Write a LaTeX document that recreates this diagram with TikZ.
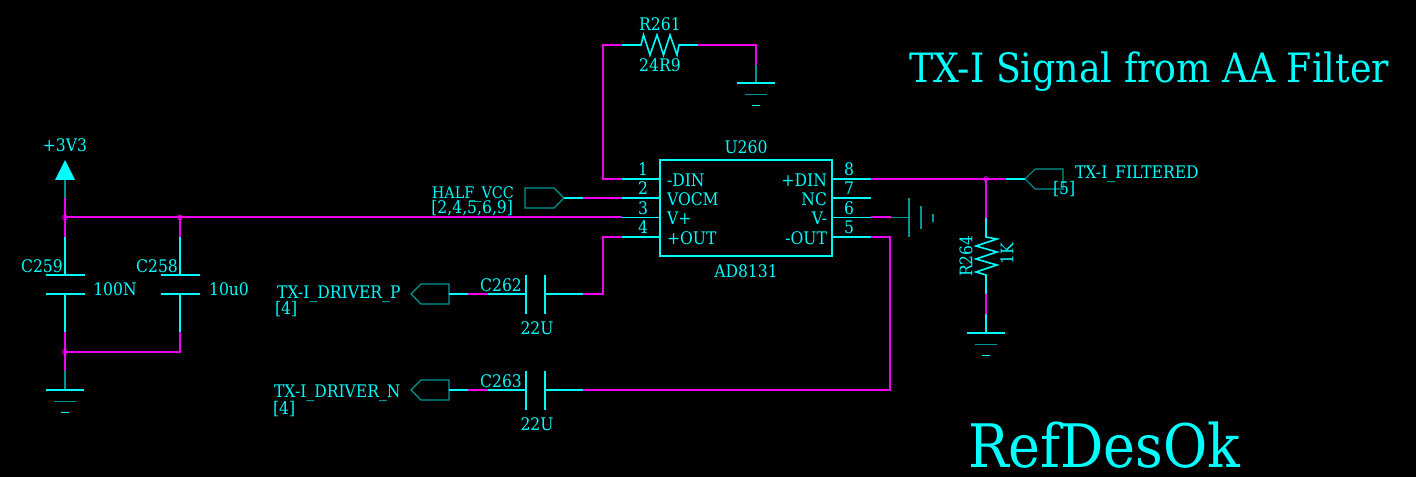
\documentclass[tikz,border=0pt]{standalone}
\usepackage{fontspec}
\setmainfont[FakeStretch=0.9]{DejaVu Serif}
\usepackage{xcolor}
\definecolor{schcyan}{RGB}{0,250,250}
\definecolor{schbright}{RGB}{0,255,255}
\definecolor{schteal}{RGB}{0,150,150}
\definecolor{schwire}{RGB}{240,0,240}

\begin{document}
\begin{tikzpicture}[% styles used in image code
     x = 0.75pt, y = -0.75pt,
wire/.style = {schwire, line width=1.5pt},
lead/.style = {schcyan, line width=1.2pt},
stub/.style = {schcyan, line width=0.8pt},
dim stub/.style = {schteal, line width=1.3pt},
dot/.style = {circle, draw=schwire, line width=0.6pt,
              minimum size=3.6pt, inner sep=0pt, outer sep=0pt},
chip/.style = {draw=schcyan, line width=1.2pt, minimum width=129pt, minimum height=72pt,
              inner sep=0pt, outer sep=0pt},
txt/.style = {text=schcyan, inner sep=0pt, outer sep=0pt,
              font=\fontsize{13pt}{13pt}\selectfont},
                        ]
	\fill[black] (0,0) rectangle (1416,477);

	% coordinates of the nets
	\coordinate (v33) at (65,180);
	\coordinate (j1) at (65,217.5);
	\coordinate (j2) at (180,217.5);
	\coordinate (j3) at (65,352);
	\coordinate (j4) at (986,179);
	\coordinate (g1) at (65,390);
	\coordinate (g2) at (756,83);
	\coordinate (g3) at (986,333);

	% amplifier
	\node[chip] (U260) at (746,208) {};
	\node[txt] (U260ref) at (746,147) {U260};
	\node[txt] (U260val) at (746,271) {AD8131};
	\foreach \n/\y/\a/\b in {1/179/-DIN/8, 2/198/VOCM/7, 3/217.5/V+/6, 4/237/+OUT/5}
		{
		\coordinate (pl\n) at (622,\y);
		\coordinate (pr\b) at (871,\y);
		\draw[lead] (pl\n) -- (660,\y);
		\draw[lead] (832,\y) -- (pr\b);
		\node[txt] (numl\n) at (643,\y-9.5) {\n};
		\node[txt] (numr\b) at (849,\y-9.5) {\b};
		\node[txt, anchor=west] (namel\n) at (667,\y+1) {\a};
		}
	\node[txt, anchor=east] (namer8) at (827,180) {+DIN};
	\node[txt, anchor=east] (namer7) at (827,199) {NC};
	\node[txt, anchor=east] (namer6) at (827,218.5) {V-};
	\node[txt, anchor=east] (namer5) at (827,238) {-OUT};

	% feedback resistor
	\coordinate (r1a) at (622,45);
	\coordinate (r1b) at (698,45);
	\draw[wire] (pl1) -| (603,45) -- (r1a);
	\draw[lead] (r1a) -- (641,45) -- (643.5,35) -- (650,55) -- (657,35)
		-- (663.5,55) -- (670,35) -- (677,55) -- (679,45) -- (r1b);
	\draw[wire] (r1b) -| (756,65);
	\draw[dim stub] (756,65) -- (g2);
	\node[txt] (R261) at (660,24) {R261};
	\node[txt] (R261val) at (660,65) {24R9};

	% half supply input
	\coordinate (hv) at (564,198);
	\draw[wire] (pl2) -- (583,198);
	\draw[stub] (583,198) -- (hv);
	\draw[schteal, line width=1pt] (hv) -- ++(-10,-10) -- ++(-29,0) -- ++(0,20) -- ++(29,0) -- cycle;
	\node[txt, anchor=base east, font=\fontsize{12pt}{12pt}\selectfont] (halfvcc) at (514,199) {HALF\_VCC};
	\node[txt, anchor=base east] (halfvccp) at (513,214) {[2,4,5,6,9]};

	% supply and decoupling
	\fill[schbright] (65,160) -- (55,180) -- (75,180) -- cycle;
	\node[txt] (v33lbl) at (65,145) {+3V3};
	\draw[dim stub] (v33) -- (65,198);
	\draw[wire] (65,198) -- (65,237);
	\draw[wire] (pl3) -- (j1);
	\draw[wire] (j2) -- (180,237);
	\draw[wire] (65,332) -- (65,371);
	\draw[wire] (180,332) |- (j3);
	\draw[dim stub] (65,371) -- (g1);
	\foreach \x in {65,180}
		{
		\draw[lead] (\x,237) -- (\x,275);
		\draw[lead] (\x,294) -- (\x,332);
		\draw[stub] (\x-19.5,275) -- (\x+19.5,275);
		\draw[stub] (\x-19.5,294) -- (\x+19.5,294);
		}
	\node[dot] (d1) at (j1) {};
	\node[dot] (d2) at (j2) {};
	\node[dot] (d3) at (j3) {};
	\node[txt] (C259) at (42,266) {C259};
	\node[txt] (C258) at (157,266) {C258};
	\node[txt] (C259val) at (115,289) {100N};
	\node[txt] (C258val) at (229,289) {10u0};

	% grounds
	\foreach \g in {g1,g2,g3}
		{
		\draw[stub] ([xshift=-14.6pt]\g) -- ([xshift=14.6pt]\g);
		\draw[dim stub] ([shift={(-8.6pt,-8.6pt)}]\g) -- ([shift={(8.6pt,-8.6pt)}]\g);
		\draw[stub] ([shift={(-3pt,-17pt)}]\g) -- ([shift={(3pt,-17pt)}]\g);
		}

	% output capacitors
	\foreach \y/\c/\s/\v in {294/C262/P/282, 390/C263/N/378}
		{
		\coordinate (tip\s) at (411,\y);
		\draw[schteal, line width=1pt] (tip\s) -- ++(10,-10) -- ++(28,0) -- ++(0,20) -- ++(-28,0) -- cycle;
		\draw[stub] (449,\y) -- (468,\y);
		\draw[wire] (468,\y) -- (488,\y);
		\draw[lead] (488,\y) -- (526,\y);
		\draw[lead] (526,\y-19.5) -- (526,\y+19.5);
		\draw[lead] (545,\y-19.5) -- (545,\y+19.5);
		\draw[lead] (545,\y) -- (583,\y);
		\node[txt] (\c) at (501,\y-9) {\c};
		\node[txt] (\c val) at (537,\y+34) {22U};
		}
	\node[txt, anchor=base east] (drvP) at (400.5,298) {TX-I\_DRIVER\_P};
	\node[txt, anchor=base east] (drvN) at (400.5,397) {TX-I\_DRIVER\_N};
	\node[txt, anchor=west] (drvPp) at (275,309) {[4]};
	\node[txt, anchor=west] (drvNp) at (273,409) {[4]};
	\draw[wire] (pl4) -| (603,294) -- (583,294);
	\draw[wire] (pr5) -| (890,390) -- (583,390);

	% filtered input
	\coordinate (tipF) at (1025,179);
	\draw[wire] (pr8) -- (1006,179);
	\draw[stub] (1006,179) -- (tipF);
	\draw[schteal, line width=0.8pt] (tipF) -- ++(10,-10) -- ++(28,0) -- ++(0,20) -- ++(-28,0) -- cycle;
	\node[txt, anchor=base west] (filt) at (1075,179) {TX-I\_FILTERED};
	\node[txt, anchor=west] (filtp) at (1053,189) {[5]};
	\draw[wire] (j4) -- (986,218);
	\draw[lead] (986,218) -- (986,237) -- (997,239) -- (976,246) -- (997,252) -- (976,259)
		-- (997,265) -- (976,272) -- (986,275) -- (986,294);
	\draw[wire] (986,294) -- (986,314);
	\draw[stub] (986,314) -- (g3);
	\node[dot] (d4) at (j4) {};
	\node[txt, rotate=90] (R264) at (966,256) {R264};
	\node[txt, rotate=90] (R264val) at (1007,254) {1K};

	% decoupled pin six
	\draw[wire] (pr6) -- (891,217.5);
	\draw[schteal, line width=0.8pt] (891,217.5) -- (909,217.5);
	\draw[schteal, line width=0.9pt] (909,198) -- (909,237);
	\draw[schteal, line width=0.9pt] (921,206) -- (921,229);
	\draw[schteal, line width=0.9pt] (933,214) -- (933,222);

	% headings
	\node[txt, text=schbright, anchor=base west, font=\fontsize{30.3pt}{30pt}\selectfont] (title) at (909,83) {TX-I Signal from AA Filter};
	\node[txt, text=schbright, anchor=base west, font=\fontsize{45pt}{45pt}\selectfont] (refdes) at (968,467) {RefDesOk};
\end{tikzpicture}
\end{document}
